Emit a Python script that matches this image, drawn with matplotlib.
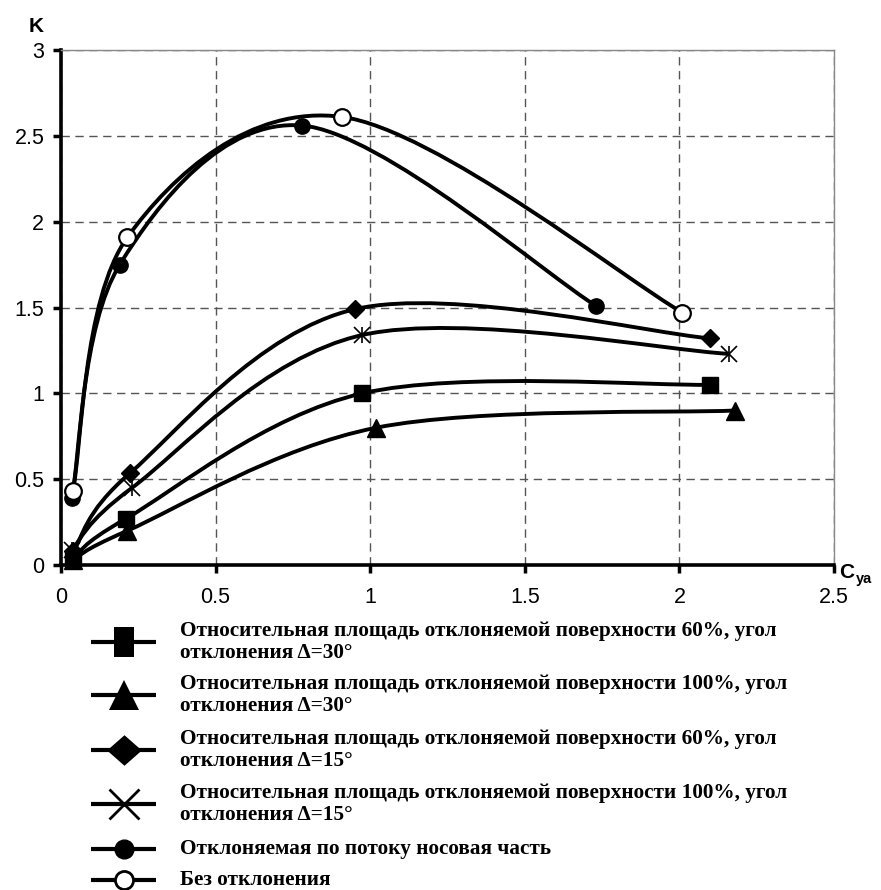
import numpy as np
import matplotlib
matplotlib.use("Agg")
import matplotlib.pyplot as plt
from matplotlib.path import Path
from matplotlib.patches import PathPatch
from matplotlib.ticker import FixedLocator, FuncFormatter

# values (C_ya, K)
sq_x = [0.04, 0.21, 0.975, 2.10]
sq_y = [0.04, 0.27, 1.00, 1.05]
tri_x = [0.04, 0.215, 1.02, 2.18]
tri_y = [0.03, 0.20, 0.80, 0.90]
dia_x = [0.04, 0.223, 0.95, 2.10]
dia_y = [0.08, 0.535, 1.49, 1.32]
ast_x = [0.035, 0.23, 0.975, 2.16]
ast_y = [0.09, 0.45, 1.34, 1.23]
nose_x = [0.035, 0.19, 0.78, 1.73]
nose_y = [0.39, 1.75, 2.56, 1.51]
base_x = [0.038, 0.215, 0.91, 2.01]
base_y = [0.43, 1.91, 2.61, 1.47]

x_ticks = [0, 0.5, 1, 1.5, 2, 2.5]
y_ticks = [0, 0.5, 1, 1.5, 2, 2.5, 3]

labels = [
    "Относительная площадь отклоняемой поверхности 60%, угол\nотклонения Δ=30°",
    "Относительная площадь отклоняемой поверхности 100%, угол\nотклонения Δ=30°",
    "Относительная площадь отклоняемой поверхности 60%, угол\nотклонения Δ=15°",
    "Относительная площадь отклоняемой поверхности 100%, угол\nотклонения Δ=15°",
    "Отклоняемая по потоку носовая часть",
    "Без отклонения",
]

W, H = 881, 890
fig = plt.figure(figsize=(W / 100, H / 100), dpi=100)

# plot area in pixels: x 61..834, y 50..565
ax = fig.add_axes([61 / W, (H - 565) / H, (834 - 61) / W, (565 - 50) / H])


def smooth_path(x, y):
    # Excel-like smoothed line: cubic bezier through the points
    pts = np.column_stack([x, y])
    n = len(pts)
    verts = [pts[0]]
    codes = [Path.MOVETO]
    for i in range(n - 1):
        p0 = pts[max(i - 1, 0)]
        p1 = pts[i]
        p2 = pts[i + 1]
        p3 = pts[min(i + 2, n - 1)]
        verts += [p1 + (p2 - p0) / 6, p2 - (p3 - p1) / 6, p2]
        codes += [Path.CURVE4] * 3
    return Path(verts, codes)


series = [
    (sq_x, sq_y, dict(marker="s", ms=11.5, mfc="black", mec="black")),
    (tri_x, tri_y, dict(marker="^", ms=13, mfc="black", mec="black")),
    (dia_x, dia_y, dict(marker="D", ms=8.7, mfc="black", mec="black")),
    (ast_x, ast_y, dict(marker="x", ms=12, mec="black", mew=1.2)),
    (nose_x, nose_y, dict(marker="o", ms=11, mfc="black", mec="black")),
    (base_x, base_y, dict(marker="o", ms=12, mfc="white", mec="black", mew=1.6)),
]

for xs, ys, mk in series:
    ax.add_patch(PathPatch(smooth_path(xs, ys), fill=False, ec="black",
                           lw=2.8, zorder=3, clip_on=False))
for xs, ys, mk in series:
    ax.plot(xs, ys, ls="none", zorder=4, clip_on=False, **mk)
# vertical bar of the asterisk marker
ax.plot(ast_x, ast_y, ls="none", marker="|", ms=12, mec="black", mew=1.2,
        zorder=4, clip_on=False)

ax.set_xlim(0, 2.5)
ax.set_ylim(0, 3)
ax.xaxis.set_major_locator(FixedLocator(x_ticks))
ax.yaxis.set_major_locator(FixedLocator(y_ticks))
fmt = FuncFormatter(lambda v, p: "%g" % v)
ax.xaxis.set_major_formatter(fmt)
ax.yaxis.set_major_formatter(fmt)

ax.grid(True, color="#555555", ls=(0, (6, 4)), lw=1)
ax.set_axisbelow(True)
for s in ["top", "right"]:
    ax.spines[s].set_color("#888888")
    ax.spines[s].set_linewidth(1)
for s in ["left", "bottom"]:
    ax.spines[s].set_color("black")
    ax.spines[s].set_linewidth(2.6)
ax.tick_params(direction="out", length=6, width=2.5, color="black",
               labelsize=15.5, top=False, right=False)
ax.tick_params(axis="x", pad=10)
ax.tick_params(axis="y", pad=6)
for t in ax.get_xticklabels() + ax.get_yticklabels():
    t.set_fontfamily("Liberation Sans")

# overlay in pixel coordinates for axis names and legend
ov = fig.add_axes([0, 0, 1, 1], zorder=5)
ov.set_xlim(0, W)
ov.set_ylim(H, 0)
ov.axis("off")
ov.patch.set_alpha(0)

ov.text(36, 26, "K", fontsize=15, fontweight="bold", family="Liberation Sans",
        ha="center", va="center")
ov.text(839, 578, "C", fontsize=15, fontweight="bold", family="Liberation Sans",
        ha="left", va="baseline")
ov.text(856, 583, "ya", fontsize=10.5, fontweight="bold",
        family="Liberation Sans", ha="left", va="baseline")

rect = [(-0.33, -0.5), (0.33, -0.5), (0.33, 0.5), (-0.33, 0.5), (-0.33, -0.5)]
diam = [(0.5, 0), (0, 0.44), (-0.5, 0), (0, -0.44), (0.5, 0)]
leg_marks = [
    dict(marker=rect, ms=21, mfc="black", mec="black", mew=0),
    dict(marker="^", ms=21, mfc="black", mec="black", mew=0),
    dict(marker=diam, ms=25, mfc="black", mec="black", mew=0),
    dict(marker="x", ms=21, mec="black", mew=2),
    dict(marker="o", ms=13.5, mfc="black", mec="black"),
    dict(marker="o", ms=13, mfc="white", mec="black", mew=2),
]
row_y = [642, 695, 750, 804, 849, 880]
for lab, mk, yy in zip(labels, leg_marks, row_y):
    ov.plot([91, 156], [yy, yy], color="black", lw=3, solid_capstyle="butt")
    ov.plot([124], [yy], ls="none", **mk)
    ov.text(180, yy, lab, fontsize=15.3, fontweight="bold",
            family="Liberation Serif", ha="left", va="center",
            linespacing=1.15)

fig.savefig("out.png", dpi=100)
